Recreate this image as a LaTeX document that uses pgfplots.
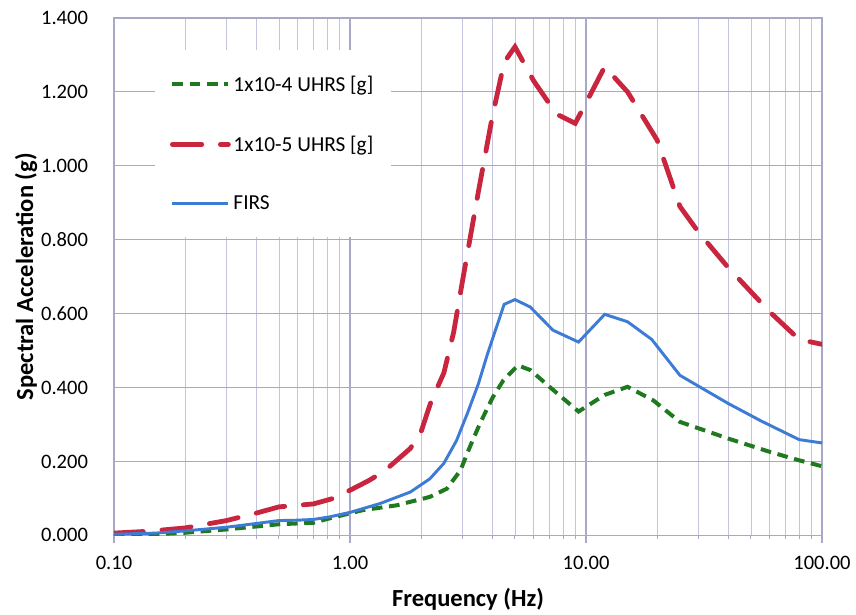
\documentclass[border=0pt]{standalone}
\usepackage{pgfplots}
\pgfplotsset{compat=1.18}
\usepackage{fontspec}
\setmainfont{Carlito}

\definecolor{uhrsgreen}{HTML}{1F7A1F}
\definecolor{uhrsred}{HTML}{C9253F}
\definecolor{firsblue}{HTML}{3C7BD6}
\definecolor{gridc}{HTML}{A8A8C8}
\definecolor{gridm}{HTML}{C4C4DE}

\begin{document}
\begin{tikzpicture}
\begin{axis}[
    scale only axis,
    width=531pt, height=388pt,
    xmode=log,
    xmin=0.1, xmax=100,
    ymin=0, ymax=1.4,
    xtick={0.1,1,10,100},
    xticklabels={0.10,1.00,10.00,100.00},
    ytick={0,0.2,...,1.4},
    /pgf/number format/assume math mode=true,
    tick label style={font=\fontsize{15.4}{18}\selectfont},
    yticklabel style={xshift=-10pt, /pgf/number format/.cd, fixed, fixed zerofill, precision=3},
    xticklabel style={yshift=-6pt},
    xtick style={draw=gridc, thick},
    ytick style={draw=none},
    xtick pos=bottom,
    tick align=outside,
    major tick length=6pt,
    grid=both,
    major grid style={draw=gridc, line width=0.8pt},
    minor grid style={draw=gridm, line width=0.6pt},
    axis line style={draw=gridc, line width=0.8pt},
    xlabel={\textbf{Frequency (Hz)}},
    ylabel={\textbf{Spectral Acceleration (g)}},
    label style={font=\fontsize{18.4}{22}\selectfont},
    xlabel style={at={(axis description cs:0.5,-0.124)}, anchor=center},
    ylabel style={at={(axis description cs:-0.124,0.5)}, anchor=center},
    legend style={at={(0.058,0.938)}, anchor=north west, draw=none, fill=white,
        font=\fontsize{16}{18}\selectfont, row sep=28pt,
        inner xsep=11pt, inner ysep=17pt},
    legend cell align=left,
    legend image code/.code={\draw[#1] (0pt,0pt) -- (42pt,0pt);},
]
\addplot[uhrsgreen, line width=3pt, dash pattern=on 8pt off 5pt] coordinates {
(0.1,0.0) (0.15,0.003) (0.2,0.007) (0.3,0.016) (0.5,0.030) (0.7,0.034)
(0.82,0.046) (1.13,0.068) (1.57,0.081) (2.18,0.104) (2.57,0.126) (2.94,0.176)
(3.22,0.239) (3.55,0.302) (4.03,0.374) (4.47,0.420) (5.15,0.460) (5.82,0.447)
(7.0,0.402) (9.3,0.335) (12,0.380) (15,0.402) (19.3,0.365) (25,0.307)
(40,0.262) (60,0.226) (80,0.203) (100,0.187)
};
\addlegendentry{1x10-4 UHRS [g]}
\addplot[uhrsred, line width=3.6pt, line cap=round, dash pattern=on 22pt off 14pt] coordinates {
(0.1,0.006) (0.14,0.011) (0.2,0.020) (0.3,0.040) (0.4,0.060) (0.5,0.077)
(0.7,0.085) (0.85,0.100) (1.0,0.122) (1.2,0.148) (1.4,0.174) (1.8,0.235)
(2.0,0.280) (2.2,0.360) (2.5,0.440) (2.75,0.550) (3.0,0.690) (3.5,0.930)
(4.0,1.130) (4.5,1.280) (5.0,1.322) (6.0,1.230) (7.5,1.140) (9.0,1.115)
(10,1.170) (12,1.268) (15,1.200) (20,1.070) (25,0.890) (30,0.820)
(40,0.725) (60,0.605) (80,0.530) (100,0.517)
};
\addlegendentry{1x10-5 UHRS [g]}
\addplot[firsblue, line width=2.2pt] coordinates {
(0.1,0.003) (0.15,0.006) (0.2,0.012) (0.3,0.022) (0.4,0.032) (0.5,0.040)
(0.6,0.041) (0.7,0.043) (0.82,0.050) (1.0,0.062) (1.34,0.086) (1.8,0.117)
(2.18,0.153) (2.5,0.195) (2.83,0.257) (3.14,0.329) (3.5,0.410) (3.83,0.492)
(4.5,0.625) (5.0,0.638) (5.8,0.618) (7.25,0.555) (9.3,0.523) (12,0.598)
(15,0.578) (19,0.530) (25,0.433) (40,0.357) (55,0.310) (80,0.259) (100,0.250)
};
\addlegendentry{FIRS}
\end{axis}
\path (current axis.south west) ++(-85.5pt,-58.5pt);
\path (current axis.north east) ++(25.5pt,13.5pt);
\end{tikzpicture}
\end{document}
